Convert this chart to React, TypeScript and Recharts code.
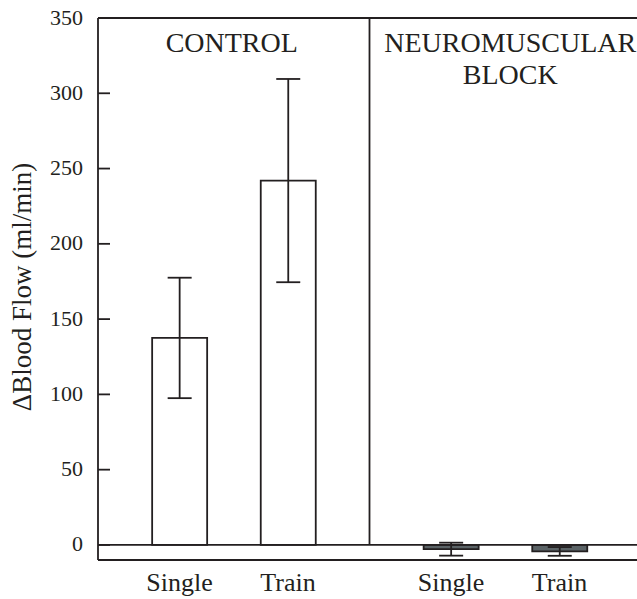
import React from 'react';
import {
  BarChart,
  Bar,
  XAxis,
  YAxis,
  ErrorBar,
  Cell,
  ReferenceLine,
  ReferenceArea,
} from 'recharts';

// ---- data ----
const groups = ['CONTROL', 'NEUROMUSCULAR BLOCK'];
const conditions = ['Single', 'Train'];
const controlMean = [137.5, 242];
const controlErr = [40, 67.5];
const blockMean = [-2.8, -4.3];
const blockErr = [4.3, 2.9];
const yTicks = [0, 50, 100, 150, 200, 250, 300, 350];

// ---- styles ----
const INK = '#231f20';
const FONT = '"Liberation Serif", "Times New Roman", serif';
const groupFills = ['#ffffff', '#5b6366'];
const GROUP_WIDTH = 2.5;

const groupMeans = [controlMean, blockMean];
const groupErrs = [controlErr, blockErr];

const rows = groups.flatMap((g, gi) =>
  conditions.map((c, ci) => ({
    pos: gi * GROUP_WIDTH + 0.75 + ci,
    label: c,
    group: g,
    fill: groupFills[gi],
    mean: groupMeans[gi][ci],
    err: groupErrs[gi][ci],
  }))
);
const xTicks = rows.map((r) => r.pos);
const labelAt = (v: number) => {
  const r = rows.find((row) => Math.abs(row.pos - v) < 1e-6);
  return r ? r.label : '';
};

const YTick = (props: any) => {
  const { x, y, payload } = props;
  return (
    <g>
      <line x1={x} x2={x + 12} y1={y} y2={y} stroke={INK} strokeWidth={1.8} />
      <text x={x - 15} y={y + 6.5} textAnchor="end" fontFamily={FONT} fontSize={22} fill={INK}>
        {payload.value}
      </text>
    </g>
  );
};

const XTick = (props: any) => {
  const { x, y, payload } = props;
  return (
    <text x={x} y={y + 31} textAnchor="middle" fontFamily={FONT} fontSize={26} fill={INK}>
      {labelAt(payload.value)}
    </text>
  );
};

const YLabel = (props: any) => {
  const vb = props.viewBox || { x: 0, y: 18, width: 98, height: 542 };
  const cx = vb.x + 31;
  const cy = vb.y + vb.height / 2 - 2;
  return (
    <text
      x={cx}
      y={cy}
      transform={`rotate(-90, ${cx}, ${cy})`}
      textAnchor="middle"
      fontFamily={FONT}
      fontSize={27}
      fill={INK}
    >
      ΔBlood Flow (ml/min)
    </text>
  );
};

const makeGroupLabel = (lines: string[], dx: number) => (props: any) => {
  const vb = props.viewBox;
  const cx = vb.x + vb.width / 2 + dx;
  return (
    <text textAnchor="middle" fontFamily={FONT} fontSize={28} fill={INK}>
      {lines.map((l, i) => (
        <tspan key={i} x={cx} y={vb.y + 34 + i * 31.6}>
          {l}
        </tspan>
      ))}
    </text>
  );
};

export default function App() {
  return (
    <div
      style={{
        position: 'absolute',
        left: 0,
        top: 0,
        width: 637,
        height: 599,
        overflow: 'hidden',
        background: '#fff',
      }}
    >
      <BarChart
        width={646}
        height={599}
        data={rows}
        margin={{ top: 18, right: 5, bottom: 0, left: 0 }}
      >
        <XAxis
          type="number"
          dataKey="pos"
          domain={[0, GROUP_WIDTH * groups.length]}
          ticks={xTicks}
          interval={0}
          allowDataOverflow
          height={39}
          tickSize={0}
          tickMargin={0}
          tickLine={false}
          axisLine={{ stroke: INK, strokeWidth: 1.8 }}
          tick={<XTick />}
        />
        <YAxis
          type="number"
          domain={[-10, 350]}
          ticks={yTicks}
          interval={0}
          allowDataOverflow
          width={98}
          tickSize={0}
          tickMargin={0}
          tickLine={false}
          axisLine={{ stroke: INK, strokeWidth: 1.8 }}
          tick={<YTick />}
          label={<YLabel />}
        />
        <ReferenceArea
          x1={0}
          x2={GROUP_WIDTH}
          y1={0}
          y2={350}
          fill="none"
          fillOpacity={0}
          stroke="none"
          ifOverflow="visible"
          label={makeGroupLabel([groups[0]], -2)}
        />
        <ReferenceArea
          x1={GROUP_WIDTH}
          x2={GROUP_WIDTH * 2}
          y1={0}
          y2={350}
          fill="none"
          fillOpacity={0}
          stroke="none"
          ifOverflow="visible"
          label={makeGroupLabel(['NEUROMUSCULAR', 'BLOCK'], 5)}
        />
        <ReferenceLine y={350} stroke={INK} strokeWidth={1.8} ifOverflow="visible" />
        <ReferenceLine y={0} stroke={INK} strokeWidth={1.8} />
        <ReferenceLine
          segment={[
            { x: GROUP_WIDTH, y: 0 },
            { x: GROUP_WIDTH, y: 350 },
          ]}
          stroke={INK}
          strokeWidth={1.8}
        />
        <Bar dataKey="mean" barSize={55} stroke={INK} strokeWidth={1.8} isAnimationActive={false}>
          {rows.map((r, i) => (
            <Cell key={i} fill={r.fill} />
          ))}
          <ErrorBar dataKey="err" width={12} stroke={INK} strokeWidth={1.8} direction="y" />
        </Bar>
      </BarChart>
    </div>
  );
}
